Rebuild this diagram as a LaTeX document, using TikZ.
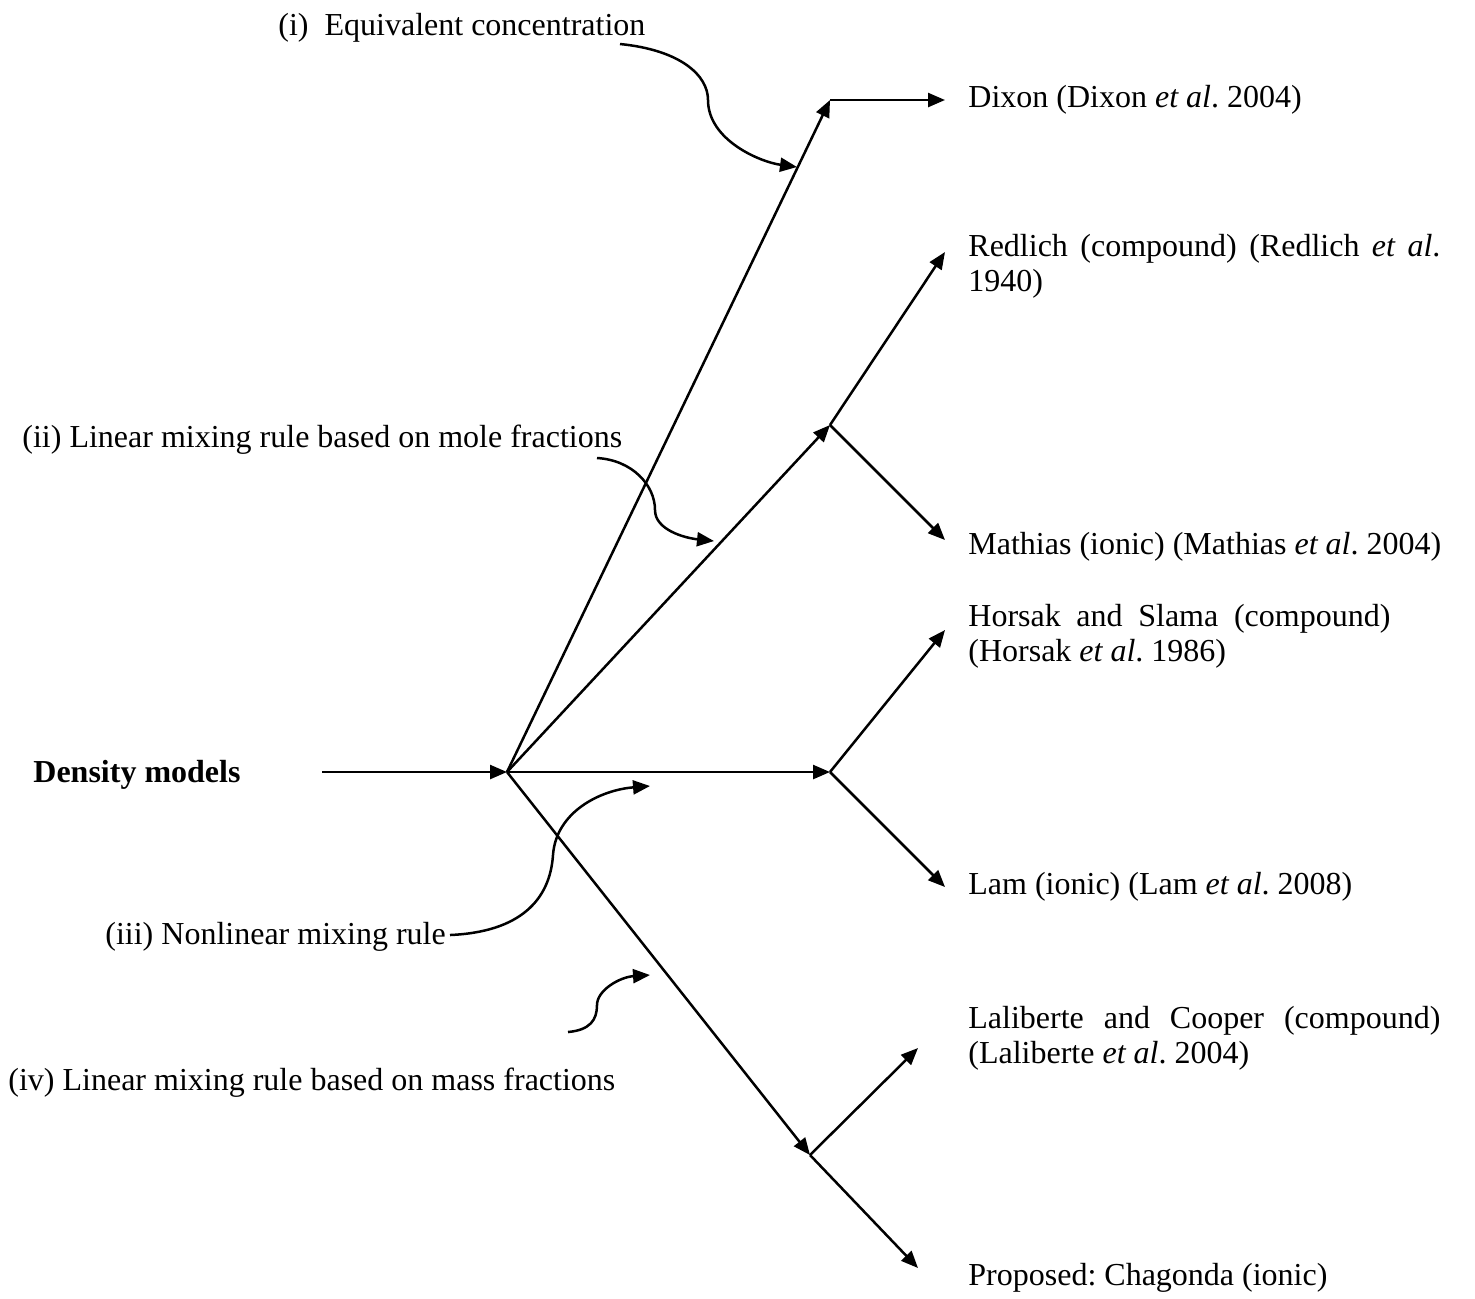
\documentclass[tikz,border=0pt]{standalone}
\usepackage{fontspec}
\setmainfont{Liberation Serif}
\usetikzlibrary{arrows.meta}
\frenchspacing
\begin{document}
\begin{tikzpicture}[x=0.5pt,y=-0.5pt,
  conn/.style={line width=1.25pt,-{Triangle[length=8.5pt,width=7pt]}},
  lbl/.style={inner sep=0pt,anchor=west,font=\fontsize{16}{17.5}\selectfont,align=left}]
\useasboundingbox (0,0) rectangle (1475,1298);
% text nodes
\node[lbl] (ti) at (278,28) {(i)\ \ Equivalent concentration};
\node[lbl] (tii) at (22,440) {(ii) Linear mixing rule based on mole fractions};
\node[lbl] (tdm) at (33,775) {\textbf{Density models}};
\node[lbl] (tiii) at (105,937) {(iii) Nonlinear mixing rule};
\node[lbl] (tiv) at (8,1083) {(iv) Linear mixing rule based on mass fractions};
\node[lbl] (dixon) at (968,100) {Dixon (Dixon \textit{et al}. 2004)};
\node[lbl] (redlich) at (968,266) {\makebox[236pt][s]{Redlich (compound) (Redlich \textit{et al}.}\\1940)};
\node[lbl] (mathias) at (968,547) {Mathias (ionic) (Mathias \textit{et al}. 2004)};
\node[lbl] (horsak) at (968,636) {\makebox[211pt][s]{Horsak and Slama (compound)}\\(Horsak \textit{et al}. 1986)};
\node[lbl] (lam) at (968,887) {Lam (ionic) (Lam \textit{et al}. 2008)};
\node[lbl] (lali) at (968,1038) {\makebox[236pt][s]{Laliberte and Cooper (compound)}\\(Laliberte \textit{et al}. 2004)};
\node[lbl] (prop) at (968,1278) {Proposed: Chagonda (ionic)};
% junctions
\coordinate (start) at (322,772);
\coordinate (hub) at (507,772);
\coordinate (j1) at (830,100);
\coordinate (j2) at (830,425);
\coordinate (j3) at (830,772);
\coordinate (j4) at (810,1155);
\coordinate (e1) at (945,100);
\coordinate (e2a) at (945,252);
\coordinate (e2b) at (945,540);
\coordinate (e3a) at (945,630);
\coordinate (e3b) at (945,887);
\coordinate (e4a) at (918,1048);
\coordinate (e4b) at (918,1268);
% main arrows
\draw[conn] (start) -- (hub);
\draw[conn] (hub) -- (j1);
\draw[conn] (hub) -- (j2);
\draw[conn] (hub) -- (j3);
\draw[conn] (hub) -- (j4);
\draw[conn] (j1) -- (e1);
\draw[conn] (j2) -- (e2a);
\draw[conn] (j2) -- (e2b);
\draw[conn] (j3) -- (e3a);
\draw[conn] (j3) -- (e3b);
\draw[conn] (j4) -- (e4a);
\draw[conn] (j4) -- (e4b);
% curved pointers
\coordinate (ci) at (620,44);
\coordinate (ciend) at (797,167);
\draw[conn] (ci) .. controls (680,50) and (708,75) .. (708,100)
  .. controls (708,140) and (760,162) .. (ciend);
\coordinate (cii) at (597,458);
\coordinate (ciiend) at (714,541);
\draw[conn] (cii) .. controls (632,460) and (655,485) .. (655,510)
  .. controls (655,530) and (685,538) .. (ciiend);
\coordinate (ciii) at (450,935);
\coordinate (ciiiend) at (650,786);
\draw[conn] (ciii) .. controls (520,932) and (550,900) .. (553,855)
  .. controls (556,812) and (600,790) .. (ciiiend);
\coordinate (civ) at (568,1032);
\coordinate (civend) at (650,975);
\draw[conn] (civ) .. controls (590,1030) and (597,1020) .. (597,1005)
  .. controls (597,990) and (620,977) .. (civend);
\end{tikzpicture}
\end{document}
